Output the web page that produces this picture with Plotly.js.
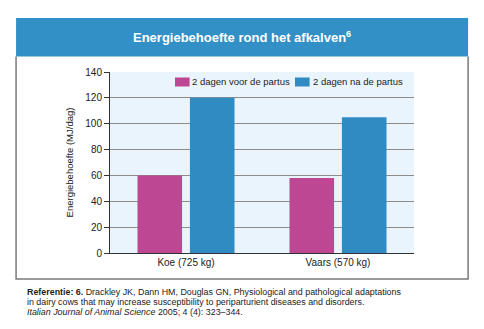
<!DOCTYPE html>
<html><head><meta charset="utf-8">
<script src="https://cdn.plot.ly/plotly-3.0.1.min.js"></script>
<style>html,body{margin:0;padding:0;background:#fff;}#chart{width:484px;height:329px;}</style>
</head><body><div id="chart"></div>
<script>
const categories = ["Koe (725 kg)", "Vaars (570 kg)"];
const seriesNames = ["2 dagen voor de partus", "2 dagen na de partus"];
const voorPartus = [60, 58];
const naPartus = [120, 105];
const yTicks = [0, 20, 40, 60, 80, 100, 120, 140];
const seriesColors = ["#bd4792", "#2f8bc1"];

const FONT = "Liberation Sans, Arial, Helvetica, sans-serif";
const data = [
  {type: "bar", name: seriesNames[0], x: categories, y: voorPartus, marker: {color: seriesColors[0]}},
  {type: "bar", name: seriesNames[1], x: categories, y: naPartus, marker: {color: seriesColors[1]}}
];

// compact legend (swatch + label), placed in the top of the plot area
const legendX = [0.2138, 0.6086];
const legendShapes = seriesNames.map((n, i) => ({
  type: "rect", xref: "paper", yref: "paper",
  x0: legendX[i], x1: legendX[i] + 0.048, y0: 0.920, y1: 0.9696,
  fillcolor: seriesColors[i], line: {width: 0}
}));
const legendLabels = seriesNames.map((n, i) => ({
  xref: "paper", yref: "paper", x: legendX[i] + 0.051, y: 0.9448,
  xanchor: "left", yanchor: "middle", showarrow: false, text: n,
  font: {size: 9.5, family: FONT, color: "#222"}
}));

const layout = {
  width: 484, height: 329,
  margin: {l: 110, r: 70, t: 72, b: 76},
  paper_bgcolor: "#ffffff",
  plot_bgcolor: "#eaf4fc",
  font: {family: FONT, size: 10, color: "#222"},
  barmode: "group",
  bargap: 0.31,
  bargroupgap: 0.15,
  showlegend: false,
  xaxis: {showline: true, linecolor: "#333", linewidth: 1, ticks: "", showgrid: false,
          tickfont: {size: 10, family: FONT, color: "#222"}},
  yaxis: {range: [0, 140], tickvals: yTicks, ticktext: yTicks.map(String),
          showline: true, linecolor: "#333", linewidth: 1, ticks: "outside", ticklen: 5,
          tickcolor: "#333", showgrid: true, gridcolor: "#8c8c8c", gridwidth: 1,
          zeroline: false, tickfont: {size: 10, family: FONT, color: "#222"},
          title: {text: "Energiebehoefte (MJ/dag)", font: {size: 9.5, family: FONT, color: "#222"}, standoff: 9}},
  shapes: [
    {type: "rect", xref: "paper", yref: "paper", x0: -0.309, x1: 1.178, y0: 1.086, y1: 1.298,
     fillcolor: "#3390c6", line: {width: 0}, layer: "below"},
    {type: "path", xref: "paper", yref: "paper",
     path: "M -0.309 1.086 L -0.309 -0.144 L 1.178 -0.144 L 1.178 1.086",
     line: {color: "#7a7a7a", width: 1.5}}
  ].concat(legendShapes),
  annotations: [
    {xref: "paper", yref: "paper", x: 0.434, y: 1.195, xanchor: "center", yanchor: "middle",
     showarrow: false, text: "<b>Energiebehoefte rond het afkalven<sup>6</sup></b>",
     font: {size: 13, family: FONT, color: "#ffffff"}},
    {xref: "paper", yref: "paper", x: -0.28, y: -0.213, xanchor: "left", yanchor: "middle",
     showarrow: false, align: "left",
     text: "<b>Referentie: 6.</b> Drackley JK, Dann HM, Douglas GN, Physiological and pathological adaptations",
     font: {size: 8.9, family: FONT, color: "#222"}},
    {xref: "paper", yref: "paper", x: -0.28, y: -0.272, xanchor: "left", yanchor: "middle",
     showarrow: false, align: "left",
     text: "in dairy cows that may increase susceptibility to periparturient diseases and disorders.",
     font: {size: 8.9, family: FONT, color: "#222"}},
    {xref: "paper", yref: "paper", x: -0.28, y: -0.328, xanchor: "left", yanchor: "middle",
     showarrow: false, align: "left",
     text: "<i>Italian Journal of Animal Science</i> 2005; 4 (4): 323–344.",
     font: {size: 8.9, family: FONT, color: "#222"}}
  ].concat(legendLabels)
};
Plotly.newPlot("chart", data, layout, {displayModeBar: false, staticPlot: true});
</script></body></html>
